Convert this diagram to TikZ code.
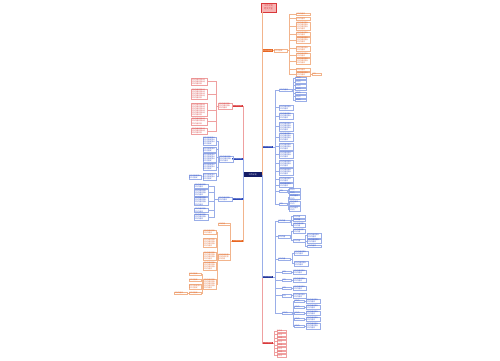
\documentclass[tikz,border=0pt]{standalone}
\usepackage{fontspec}
\newfontfamily\cjk{Noto Sans CJK SC}
\definecolor{oC}{HTML}{E8641E}
\definecolor{oT}{HTML}{E0642A}
\definecolor{oL}{HTML}{F2B48C}
\definecolor{bC}{HTML}{2B46B8}
\definecolor{nB}{HTML}{22349A}
\definecolor{bT}{HTML}{2E4FC8}
\definecolor{bL}{HTML}{9AAEE8}
\definecolor{rC}{HTML}{D9383A}
\definecolor{rT}{HTML}{D83C3C}
\definecolor{rL}{HTML}{EFA0A0}
\definecolor{tP}{HTML}{F6B4B4}
\definecolor{nv}{HTML}{141C66}
\newcommand\mych[1]{\ifcase#1\or 工\or 工作\or 工作内\or 工作内容\or 工作内容安\or 工作内容安排\or 工作内容安排计\or 工作内容安排计划\or 工作内容安排计划总\fi}
\newcommand\mytx[2]{\ifnum#1>1 \mych{#2}\\\mytx{\numexpr#1-1\relax}{#2}\else\mych{\numexpr#2-2\relax}\fi}
\newcommand\mkR[6]{\node[#4, anchor=west, text width=#6pt] (#1) at (#2,#3) {\mytx{#5}{\numexpr(#6*10-8)/17\relax}};}
\newcommand\mkL[6]{\node[#4, anchor=east, text width=#6pt] (#1) at (#2,#3) {\mytx{#5}{\numexpr(#6*10-8)/17\relax}};}
\newcommand\kidsR[4]{\foreach \kid in {#4} {\draw[#1] (#2.east) -- ++(#3,0) |- (\kid.west);}}
\newcommand\kidsL[4]{\foreach \kid in {#4} {\draw[#1] (#2.west) -- ++(-#3,0) |- (\kid.east);}}
\tikzset{
 lf/.style={draw, line width=0.15pt, inner sep=0.4pt, align=left, font=\cjk\fontsize{1.7}{2.1}\selectfont},
 lfo/.style={lf, draw=oL, text=oT},
 lfb/.style={lf, draw=bL, text=bT},
 lfr/.style={lf, draw=rL, text=rT},
 bar/.style={inner sep=0, minimum width=11pt, minimum height=2.4pt, text=white, font=\cjk\fontsize{1.5}{2}\selectfont},
 baro/.style={bar, fill=oC}, barb/.style={bar, fill=bC}, barn/.style={bar, fill=nB}, barr/.style={bar, fill=rC},
 co/.style={draw=oL, line width=0.3pt},
 cb/.style={draw=bL, line width=0.3pt},
 cr/.style={draw=rL, line width=0.3pt},
 titlen/.style={draw=rC, fill=tP, text=rC, line width=0.3pt, minimum width=15pt, minimum height=8.5pt, inner sep=0.5pt, align=center, font=\cjk\fontsize{2.2}{2.8}\selectfont},
 rootn/.style={fill=nv, text=white, minimum width=19pt, minimum height=5pt, inner sep=0, font=\cjk\fontsize{2}{2.5}\selectfont},
}
\begin{document}
\begin{tikzpicture}[x=1pt,y=-1pt]
\useasboundingbox (0,0) rectangle (500,360);
\fill[white] (0,0) rectangle (500,360);
% title and root
\node[titlen] (T) at (268.5,7.5) {工作计划\\范文大全};
\node[rootn] (R) at (252.5,174.5) {工作计划};
\coordinate (S) at (R.east);
\coordinate (SL) at (R.west);
% ---------- right bars
\node[baro, anchor=west] (RB1) at (262,50.5) {工作计划内容};
\node[barb, anchor=west] (RB2) at (262,147) {工作计划内容};
\node[barn, anchor=west] (RB3) at (262,277) {工作计划内容};
\node[barr, anchor=west] (RB4) at (262,343) {工作计划内容};
\draw[cr] (S) |- (RB4.west);
\draw[cb] (S) |- (RB3.west);
\draw[cb] (S) |- (RB2.west);
\draw[co] (S) |- (RB1.west);
\draw[co] (RB1.west) -- (RB1.west |- T.south);
% R1
\mkR{RL1}{273.5}{50.5}{lfo}{1}{13}
\draw[co] (RB1.east) -- (RL1.west);
\mkR{o1}{296}{14}{lfo}{1}{13}
\mkR{o2}{296}{18.5}{lfo}{1}{13}
\mkR{o3}{296}{26}{lfo}{4}{13}
\mkR{o4}{296}{34}{lfo}{2}{13}
\mkR{o5}{296}{40.2}{lfo}{3}{13}
\mkR{o6}{296}{48.5}{lfo}{2}{13}
\mkR{o7}{296}{55}{lfo}{2}{13}
\mkR{o8}{296}{61.2}{lfo}{3}{13}
\mkR{o9}{296}{69.5}{lfo}{1}{13}
\mkR{o10}{296}{74}{lfo}{2}{13}
\mkR{o11}{312}{74}{lfo}{1}{8}
\kidsR{co}{RL1}{2}{o1,o2,o3,o4,o5,o6,o7,o8,o9,o10}
\draw[co] (o10.east) -- (o11.west);
% R2
\mkR{bA}{279}{90}{lfb}{1}{12}
\mkR{ga1}{295}{78}{lfb}{1}{10}
\mkR{ga2}{295}{81.7}{lfb}{1}{10}
\mkR{ga3}{295}{85.4}{lfb}{1}{10}
\mkR{ga4}{295}{89.1}{lfb}{1}{10}
\mkR{ga5}{295}{92.8}{lfb}{1}{10}
\mkR{ga6}{295}{96.5}{lfb}{1}{10}
\mkR{ga7}{295}{100.2}{lfb}{1}{10}
\kidsR{cb}{bA}{1.4}{ga1,ga2,ga3,ga4,ga5,ga6,ga7}
\mkR{bL1}{279}{107.5}{lfb}{2}{13}
\mkR{bL2}{279}{116}{lfb}{3}{13}
\mkR{bL3}{279}{126.5}{lfb}{4}{13}
\mkR{bL4}{279}{137}{lfb}{4}{13}
\mkR{bL5}{279}{146.5}{lfb}{3}{13}
\mkR{bL6}{279}{154.5}{lfb}{3}{13}
\mkR{bL7}{279}{163.5}{lfb}{3}{13}
\mkR{bL8}{279}{171.5}{lfb}{3}{13}
\mkR{bL9}{279}{179.5}{lfb}{2}{13}
\mkR{bL10}{279}{185}{lfb}{2}{13}
\mkR{bB}{279}{191.2}{lfb}{1}{7}
\mkR{gb1}{289}{189.5}{lfb}{1}{10}
\mkR{gb2}{289}{193}{lfb}{1}{10}
\kidsR{cb}{bB}{1.2}{gb1,gb2}
\mkR{bC}{279}{204}{lfb}{1}{7}
\mkR{gc1}{289}{197.3}{lfb}{2}{10}
\mkR{gc2}{289}{203}{lfb}{2}{10}
\mkR{gc3}{289}{208.8}{lfb}{2}{10}
\kidsR{cb}{bC}{1.2}{gc1,gc2,gc3}
\kidsR{cb}{RB2}{1.5}{bA,bL1,bL2,bL3,bL4,bL5,bL6,bL7,bL8,bL9,bL10,bB,bC}
% R3
\mkR{cA}{278}{221}{lfb}{1}{11}
\mkR{cA1}{293}{216.5}{lfb}{1}{11}
\mkR{cA2}{293}{220.3}{lfb}{1}{11}
\mkR{cA3}{293}{225}{lfb}{2}{11}
\kidsR{cb}{cA}{1.6}{cA1,cA2,cA3}
\mkR{cB}{278}{236.5}{lfb}{1}{11}
\mkR{cB1}{293}{231}{lfb}{2}{11}
\mkR{cB2}{293}{240.5}{lfb}{1}{11}
\kidsR{cb}{cB}{1.6}{cB1,cB2}
\mkR{cB21}{307}{235.5}{lfb}{2}{13}
\mkR{cB22}{307}{241}{lfb}{2}{13}
\mkR{cB23}{307}{246}{lfb}{1}{13}
\kidsR{cb}{cB2}{0.6}{cB21,cB22,cB23}
\mkR{cC}{278}{259}{lfb}{1}{11}
\mkR{cC1}{294}{253}{lfb}{2}{13}
\mkR{cC2}{294}{263.5}{lfb}{2}{13}
\kidsR{cb}{cC}{2}{cC1,cC2}
\mkR{cD1}{282}{272}{lfb}{1}{8}
\mkR{cD2}{282}{280}{lfb}{1}{8}
\mkR{cD3}{282}{288}{lfb}{1}{8}
\mkR{cD4}{282}{295.5}{lfb}{1}{8}
\mkR{cD1a}{293}{272}{lfb}{2}{12}
\mkR{cD2a}{293}{280}{lfb}{2}{12}
\mkR{cD3a}{293}{288}{lfb}{2}{12}
\mkR{cD4a}{293}{295.5}{lfb}{2}{12}
\draw[cb] (cD1.east) -- (cD1a.west);
\draw[cb] (cD2.east) -- (cD2a.west);
\draw[cb] (cD3.east) -- (cD3a.west);
\draw[cb] (cD4.east) -- (cD4a.west);
\mkR{cE}{282}{313}{lfb}{1}{9}
\mkR{cE1}{294}{301}{lfb}{1}{9}
\mkR{cE2}{294}{307}{lfb}{1}{9}
\mkR{cE3}{294}{313}{lfb}{1}{9}
\mkR{cE4}{294}{319}{lfb}{1}{9}
\mkR{cE5}{294}{326}{lfb}{1}{9}
\kidsR{cb}{cE}{1}{cE1,cE2,cE3,cE4,cE5}
\mkR{cE1a}{306}{301}{lfb}{2}{13}
\mkR{cE2a}{306}{307}{lfb}{2}{13}
\mkR{cE3a}{306}{313}{lfb}{2}{13}
\mkR{cE4a}{306}{319}{lfb}{2}{13}
\mkR{cE5a}{306}{326}{lfb}{3}{13}
\draw[cb] (cE1.east) -- (cE1a.west);
\draw[cb] (cE2.east) -- (cE2a.west);
\draw[cb] (cE3.east) -- (cE3a.west);
\draw[cb] (cE4.east) -- (cE4a.west);
\draw[cb] (cE5.east) -- (cE5a.west);
\kidsR{cb}{RB3}{1.5}{cA,cB,cC,cD1,cD2,cD3,cD4,cE}
% R4
\mkR{d1}{276.5}{331}{lfr}{1}{9}
\mkR{d2}{276.5}{334.5}{lfr}{1}{9}
\mkR{d3}{276.5}{338}{lfr}{1}{9}
\mkR{d4}{276.5}{341.5}{lfr}{1}{9}
\mkR{d5}{276.5}{345}{lfr}{1}{9}
\mkR{d6}{276.5}{348.5}{lfr}{1}{9}
\mkR{d7}{276.5}{352}{lfr}{1}{9}
\mkR{d8}{276.5}{355.5}{lfr}{1}{9}
\kidsR{cr}{RB4}{1.2}{d1,d2,d3,d4,d5,d6,d7,d8}
% ---------- left bars
\node[barr, anchor=east] (LB1) at (243,106) {工作计划内容};
\node[barb, anchor=east] (LB2) at (243,159) {工作计划内容};
\node[barb, anchor=east] (LB3) at (243,199) {工作计划内容};
\node[baro, anchor=east] (LB4) at (243,241) {工作计划内容};
\draw[cr] (SL) |- (LB1.east);
\draw[cb] (SL) |- (LB2.east);
\draw[co] (SL) |- (LB4.east);
\draw[cb] (SL) |- (LB3.east);
% L1
\mkL{LL1}{232}{106}{lfr}{3}{13}
\draw[cr] (LB1.west) -- (LL1.east);
\mkL{r1}{207}{81.5}{lfr}{3}{15}
\mkL{r2}{207}{94}{lfr}{5}{15}
\mkL{r3}{207}{110}{lfr}{6}{15}
\mkL{r4}{207}{121.3}{lfr}{3}{15}
\mkL{r5}{207}{131}{lfr}{3}{15}
\kidsL{cr}{LL1}{1.7}{r1,r2,r3,r4,r5}
% L2
\mkL{LL2}{233}{159}{lfb}{3}{13}
\draw[cb] (LB2.west) -- (LL2.east);
\mkL{k1}{216.5}{141}{lfb}{4}{13}
\mkL{k2}{216.5}{149.5}{lfb}{2}{13}
\mkL{k3}{216.5}{157.5}{lfb}{4}{13}
\mkL{k4}{216.5}{166.7}{lfb}{3}{13}
\mkL{k5}{216.5}{176.5}{lfb}{3}{13}
\kidsL{cb}{LL2}{1.1}{k1,k2,k3,k4,k5}
\mkL{k6}{201.5}{177}{lfb}{2}{12}
\draw[cb] (k5.west) -- (k6.east);
% L3
\mkL{LL3}{232}{199}{lfb}{2}{13}
\draw[cb] (LB3.west) -- (LL3.east);
\mkL{m1}{208}{186}{lfb}{2}{13}
\mkL{m2}{208}{192.5}{lfb}{3}{13}
\mkL{m3}{208}{201.2}{lfb}{4}{13}
\mkL{m4}{208}{210.3}{lfb}{2}{13}
\mkL{m5}{208}{217.2}{lfb}{3}{13}
\kidsL{cb}{LL3}{4}{m1,m2,m3,m4,m5}
% L4
\mkL{LA}{229.8}{224}{lfo}{1}{11}
\mkL{LBb}{229.8}{257}{lfo}{3}{11}
\kidsL{co}{LB4}{1}{LA,LBb}
\mkL{n1}{216}{232}{lfo}{2}{12}
\mkL{n2}{216}{242.5}{lfo}{4}{12}
\mkL{n3}{216}{256}{lfo}{4}{12}
\mkL{n4}{216}{266}{lfo}{4}{12}
\mkL{n5}{216}{284}{lfo}{5}{12}
\kidsL{co}{LBb}{1}{n1,n2,n3,n4,n5}
\mkL{p1}{201.5}{274}{lfo}{1}{12}
\mkL{p2}{201.5}{280}{lfo}{1}{12}
\mkL{p3}{201.5}{286.5}{lfo}{2}{12}
\mkL{p4}{201.5}{293}{lfo}{1}{12}
\kidsL{co}{n5}{0.8}{p1,p2,p3,p4}
\mkL{q1}{187}{293}{lfo}{1}{12}
\draw[co] (p4.west) -- (q1.east);
\end{tikzpicture}
\end{document}
